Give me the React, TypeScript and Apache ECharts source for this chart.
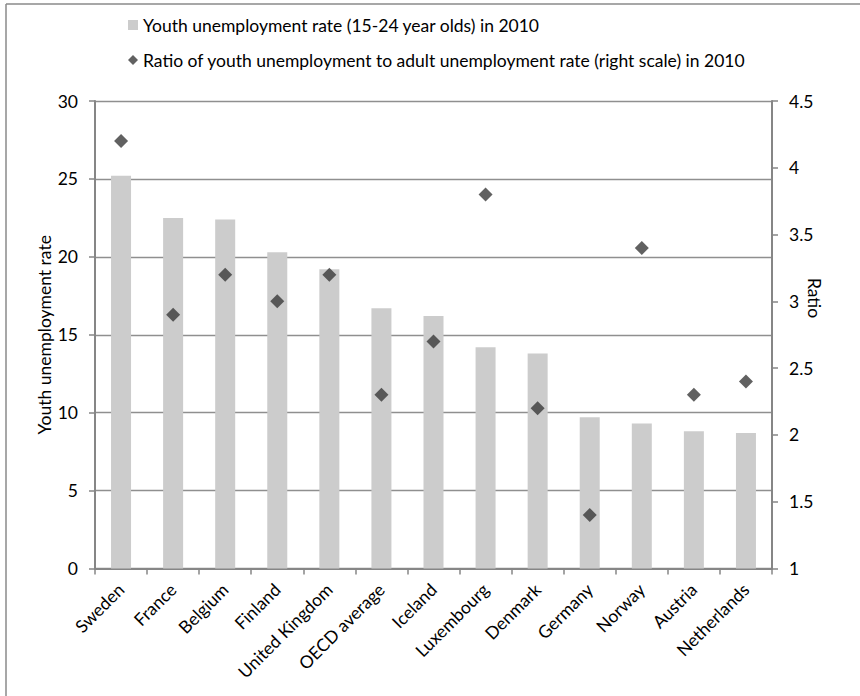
import React, { useEffect, useRef } from "react";
import * as echarts from "echarts";

// Countries, ordered by youth unemployment rate
const countries = [
  "Sweden",
  "France",
  "Belgium",
  "Finland",
  "United Kingdom",
  "OECD average",
  "Iceland",
  "Luxembourg",
  "Denmark",
  "Germany",
  "Norway",
  "Austria",
  "Netherlands",
];

// Youth unemployment rate (15-24 year olds), 2010, %
const youthRate = [25.2, 22.5, 22.4, 20.3, 19.2, 16.7, 16.2, 14.2, 13.8, 9.7, 9.3, 8.8, 8.7];

// Ratio of youth to adult unemployment rate, 2010
const youthAdultRatio = [4.2, 2.9, 3.2, 3.0, 3.2, 2.3, 2.7, 3.8, 2.2, 1.4, 3.4, 2.3, 2.4];

const barName = "Youth unemployment rate (15-24 year olds) in 2010";
const ratioName = "Ratio of youth unemployment to adult unemployment rate (right scale) in 2010";

const FONT = "Lato, 'Open Sans', 'Noto Sans', sans-serif";
const FS = 17.5;
const AXIS_GRAY = "#868686";

export default function App() {
  const ref = useRef<HTMLDivElement>(null);

  useEffect(() => {
    document.body.style.margin = "0";
    if (!ref.current) return;
    const chart = echarts.init(ref.current, undefined, { renderer: "svg" });

    chart.setOption({
      animation: false,
      backgroundColor: "#ffffff",
      textStyle: { fontFamily: FONT, color: "#000" },
      grid: { left: 95, right: 88, top: 101, bottom: 127.5, containLabel: false },
      legend: {
        orient: "vertical",
        left: 128,
        top: 15,
        padding: 0,
        itemWidth: 10,
        itemHeight: 10,
        itemGap: 15,
        textStyle: { fontSize: FS, lineHeight: 20, color: "#000", fontFamily: FONT },
        data: [
          { name: barName, icon: "rect" },
          { name: ratioName, icon: "diamond" },
        ],
      },
      xAxis: {
        type: "category",
        data: countries,
        axisLine: { lineStyle: { color: AXIS_GRAY, width: 2 } },
        axisTick: { show: true, length: 6, lineStyle: { color: AXIS_GRAY, width: 1.5 } },
        axisLabel: { interval: 0, rotate: 45, fontSize: FS, color: "#000", margin: 18 },
      },
      yAxis: [
        {
          type: "value",
          min: 0,
          max: 30,
          interval: 5,
          name: "Youth unemployment rate",
          nameLocation: "middle",
          nameRotate: 90,
          nameGap: 42,
          nameMoveOverlap: false,
          nameTextStyle: { fontSize: FS, color: "#000" },
          axisLine: { show: true, lineStyle: { color: AXIS_GRAY, width: 2 } },
          axisTick: { show: true, length: 6, lineStyle: { color: AXIS_GRAY, width: 1.5 } },
          axisLabel: { fontSize: FS, color: "#000", margin: 17 },
          splitLine: { show: true, lineStyle: { color: "#8f8f8f", width: 1.3 } },
        },
        {
          type: "value",
          min: 1,
          max: 4.5,
          interval: 0.5,
          position: "right",
          axisLine: { show: true, lineStyle: { color: AXIS_GRAY, width: 2 } },
          axisTick: { show: true, length: 6, lineStyle: { color: AXIS_GRAY, width: 1.5 } },
          axisLabel: { fontSize: FS, color: "#000", margin: 17 },
          splitLine: { show: false },
        },
      ],
      series: [
        {
          name: barName,
          type: "bar",
          yAxisIndex: 0,
          data: youthRate,
          barWidth: 20,
          itemStyle: { color: "#cccccc" },
        },
        {
          name: ratioName,
          type: "scatter",
          yAxisIndex: 1,
          data: youthAdultRatio,
          symbol: "diamond",
          symbolSize: 14,
          itemStyle: { color: "#3a3a3a" },
        },
      ],
      graphic: [
        {
          type: "text",
          x: 814,
          y: 298,
          rotation: -Math.PI / 2,
          style: {
            text: "Ratio",
            fontSize: FS,
            fontFamily: FONT,
            fill: "#000",
            align: "center",
            verticalAlign: "middle",
          },
        },
        {
          type: "line",
          shape: { x1: 6, y1: 4, x2: 860, y2: 4 },
          style: { stroke: "#8a8a8a", lineWidth: 1.5 },
        },
        {
          type: "line",
          shape: { x1: 6, y1: 4, x2: 6, y2: 696 },
          style: { stroke: "#8a8a8a", lineWidth: 1.5 },
        },
      ],
    });

    return () => chart.dispose();
  }, []);

  return <div ref={ref} style={{ width: 860, height: 696 }} />;
}
